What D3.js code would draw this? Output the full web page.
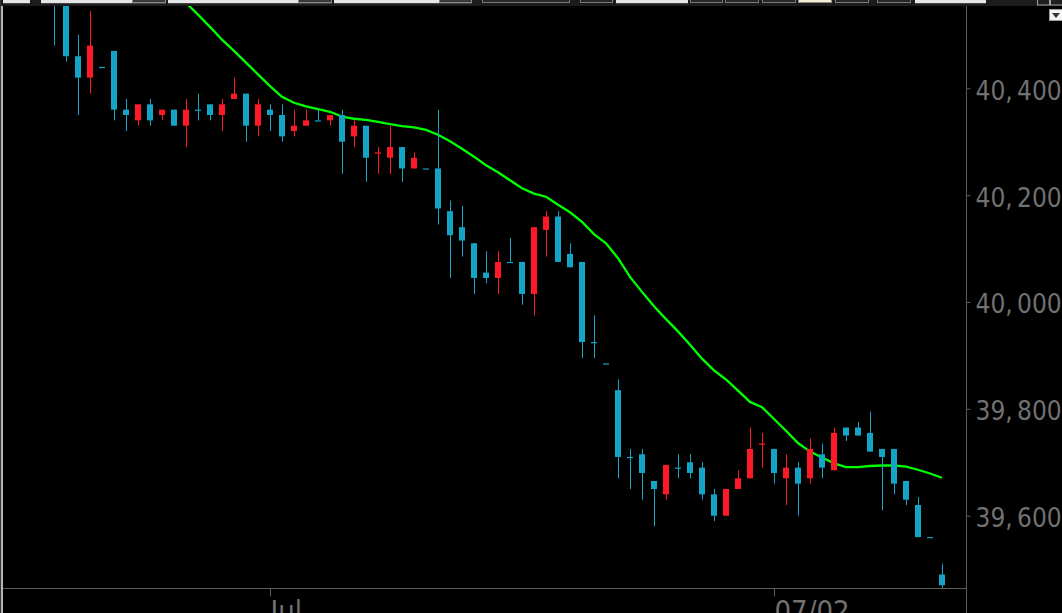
<!DOCTYPE html>
<html><head><meta charset="utf-8">
<script src="https://cdn.jsdelivr.net/npm/d3@7"></script>
<style>html,body{margin:0;padding:0;background:#000;overflow:hidden}</style>
</head><body><svg id="c" width="1062" height="613"></svg>
<script>
// OHLC bars (index 0..74)
const opens  = [40600,40570,40460,40420,40440,40470,40360,40340,40370,40350,40360,40330,40360,40370,40350,40380,40390,40330,40360,40350,40320,40330,40340,40340,40350,40310,40330,40280,40270,40290,40250,40250,40250,40170,40140,40110,40055,40045,40075,40075,40015,40135,40160,40090,40075,39925,39885,39835,39710,39715,39665,39640,39690,39700,39690,39640,39600,39650,39670,39735,39725,39670,39690,39670,39715,39685,39765,39765,39755,39725,39725,39665,39620,39560,39490];
const highs  = [40620,40580,40500,40545,40440,40470,40380,40370,40380,40360,40360,40380,40390,40370,40380,40420,40390,40380,40370,40370,40360,40360,40360,40350,40360,40340,40330,40290,40330,40290,40280,40250,40360,40190,40180,40110,40095,40095,40120,40075,40140,40170,40170,40110,40075,39975,39885,39855,39725,39725,39665,39695,39715,39715,39700,39650,39650,39685,39765,39755,39725,39715,39700,39745,39735,39765,39765,39775,39795,39725,39725,39665,39635,39560,39510];
const lows   = [40480,40450,40350,40390,40440,40340,40320,40330,40330,40340,40330,40290,40340,40340,40320,40380,40300,40310,40320,40300,40310,40330,40340,40330,40240,40290,40225,40240,40240,40225,40250,40250,40145,40045,40085,40015,40035,40015,40075,39995,39975,40085,40075,40065,39895,39895,39885,39670,39650,39630,39580,39630,39670,39670,39630,39590,39600,39650,39670,39690,39660,39620,39600,39660,39670,39685,39740,39750,39720,39610,39640,39620,39560,39560,39465];
const closes = [40565,40460,40420,40480,40440,40360,40350,40370,40340,40360,40330,40360,40360,40350,40370,40390,40330,40370,40350,40310,40330,40340,40340,40350,40300,40330,40270,40280,40290,40250,40270,40250,40175,40125,40115,40045,40045,40075,40075,40015,40140,40160,40075,40065,39925,39925,39885,39710,39710,39680,39650,39695,39690,39680,39640,39600,39650,39670,39725,39735,39680,39690,39660,39725,39690,39755,39750,39750,39720,39710,39660,39630,39560,39560,39470];
// moving average (starts at bar 10; earlier values lie above the visible range)
const maStart = 10;
const maValues = [40583,40560,40538,40515,40491,40470,40448,40426,40404,40384,40373,40366,40361,40356,40347,40343,40341,40337,40333,40329,40327,40322,40313,40301,40287,40272,40256,40243,40228,40213,40203,40197,40182,40168,40150,40127,40110,40082,40047,40019,39992,39968,39945,39920,39894,39872,39855,39834,39813,39803,39781,39759,39736,39720,39709,39698,39691,39691,39693,39694,39694,39692,39686,39679,39671];
// axis ticks
const yTicks = [39600, 39800, 40000, 40200, 40400];
const xTickIndex = [18, 60];
const xTickLabels = ["Jul", "07/02"];

const W = 1062, H = 613;
const svg = d3.select("#c");
const plot = {left: 3, top: 6, right: 966.5, bottom: 588.5};

const x = d3.scaleLinear().domain([0, opens.length - 1]).range([54, 942]);
const y = d3.scaleLinear().domain([39600, 40400]).range([515.7, 88.3]);

svg.append("rect").attr("width", W).attr("height", H).attr("fill", "#000");

const defs = svg.append("defs");
defs.append("clipPath").attr("id", "pc").append("rect")
  .attr("x", plot.left).attr("y", plot.top)
  .attr("width", plot.right - plot.left).attr("height", plot.bottom - plot.top);

const g = svg.append("g").attr("clip-path", "url(#pc)");

// moving average line
const maData = maValues.map((v, k) => ({i: k + maStart, v}));
g.append("path").datum(maData)
  .attr("fill", "none").attr("stroke", "#00ff00").attr("stroke-width", 2.3)
  .attr("d", d3.line().x(d => x(d.i)).y(d => y(d.v)));

// candles
const bars = opens.map((o, i) => {
  const c = closes[i];
  const up = c > o || (c === o && i > 0 && c > closes[i - 1]);
  return {i, o, h: highs[i], l: lows[i], c, up};
});
const BLUE = "#14a4c6", RED = "#ff1826";
const cg = g.selectAll("g.candle").data(bars).join("g").attr("class", "candle");
cg.append("rect")
  .attr("x", d => Math.round(x(d.i)) + 0)
  .attr("width", 1)
  .attr("y", d => y(d.h))
  .attr("height", d => Math.max(0, y(d.l) - y(d.h)))
  .attr("fill", d => d.up ? RED : BLUE);
cg.append("rect")
  .attr("x", d => Math.round(x(d.i)) - 3)
  .attr("width", 6)
  .attr("y", d => y(Math.max(d.o, d.c)))
  .attr("height", d => Math.max(1.2, Math.abs(y(d.o) - y(d.c))))
  .attr("fill", d => d.up ? RED : BLUE);

// right axis
const axisCol = "#5c5c5c", labelCol = "#717171";
svg.append("line").attr("x1", plot.right).attr("x2", plot.right).attr("y1", plot.top).attr("y2", H)
  .attr("stroke", axisCol).attr("stroke-width", 1);
const ya = svg.append("g").attr("transform", `translate(${plot.right},0)`)
  .call(d3.axisRight(y).tickValues(yTicks).tickSize(4).tickSizeOuter(0));
ya.select(".domain").remove();
ya.selectAll(".tick line").attr("stroke", axisCol);
ya.selectAll(".tick text").each(function(d) {
  const s = d3.format(",.1f")(d);
  const parts = s.split(",");
  const t = d3.select(this).text(null).attr("x", 9).attr("dy", "0.42em")
    .attr("fill", labelCol).attr("text-anchor", "start")
    .style("font-family", "'Liberation Sans Narrow','DejaVu Sans Condensed',sans-serif")
    .style("font-size", "26px");
  t.append("tspan").text(parts[0] + ",");
  t.append("tspan").attr("x", 50.5).text(parts[1]);
});

// bottom axis
svg.append("line").attr("x1", plot.left).attr("x2", plot.right).attr("y1", plot.bottom).attr("y2", plot.bottom)
  .attr("stroke", axisCol).attr("stroke-width", 1);
const xa = svg.append("g").attr("transform", `translate(0,${plot.bottom})`)
  .call(d3.axisBottom(x).tickValues(xTickIndex).tickSize(8).tickSizeOuter(0)
    .tickFormat((d, k) => xTickLabels[k]));
xa.select(".domain").remove();
xa.selectAll(".tick line").attr("stroke", axisCol);
xa.selectAll(".tick text").attr("x", 0).attr("y", 32).attr("dy", 0)
  .attr("text-anchor", "start").attr("fill", labelCol)
  .style("font-family", "'Liberation Sans Narrow','DejaVu Sans Condensed',sans-serif")
  .style("font-size", "29px");

// window chrome
const chrome = svg.append("g");
chrome.append("rect").attr("x", 0).attr("y", 0).attr("width", W).attr("height", 6).attr("fill", "#1c1c1c");
const lightBoxes = [[3,30],[41,166],[168,332],[334,472],[616,688],[915,986]];
lightBoxes.forEach(b => chrome.append("rect").attr("x", b[0]).attr("y", 0).attr("width", b[1]-b[0]).attr("height", 3.2).attr("fill", "#e6e6e6"));
const innerDark = [[132,166],[298,332],[439,472]];
innerDark.forEach(b => chrome.append("rect").attr("x", b[0]+0.5).attr("y", -1).attr("width", b[1]-b[0]-1).attr("height", 3.5).attr("fill", "#3a3a3a").attr("stroke", "#8a8a8a").attr("stroke-width", 1));
const darkBoxes = [[482,570],[580,613],[690,723],[725,759],[762,796],[835,869],[877,911]];
darkBoxes.forEach(b => chrome.append("rect").attr("x", b[0]+0.5).attr("y", -1).attr("width", b[1]-b[0]-1).attr("height", 3.5).attr("fill", "#262626").attr("stroke", "#7a7a7a").attr("stroke-width", 1));
chrome.append("rect").attr("x", 798.5).attr("y", -1).attr("width", 33).attr("height", 3.5).attr("fill", "#f3eecf").attr("stroke", "#8a8a8a");
[[1037,1049],[1050,1062]].forEach(b => chrome.append("rect").attr("x", b[0]+0.5).attr("y", -1).attr("width", b[1]-b[0]).attr("height", 6).attr("fill", "#202020").attr("stroke", "#a0a0a0"));
chrome.append("rect").attr("x", 1049.5).attr("y", 9.5).attr("width", 13).attr("height", 11).attr("fill", "#f4f4f4").attr("stroke", "#9a9a9a");
chrome.append("path").attr("d", "M1052,13 L1060,13 L1056,18 Z").attr("fill", "#333");
chrome.append("rect").attr("x", 0).attr("y", 0).attr("width", 1).attr("height", H).attr("fill", "#333");
chrome.append("rect").attr("x", 1).attr("y", 6).attr("width", 2).attr("height", H).attr("fill", "#b5b5b5");
</script></body></html>
